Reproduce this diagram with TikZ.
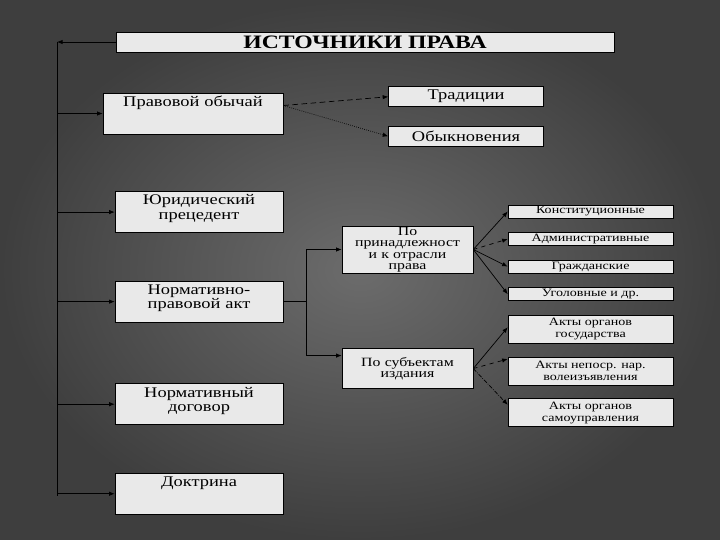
\documentclass[tikz,border=0pt]{standalone}
\usepackage{fontspec}
\setmainfont{Liberation Serif}[FakeStretch=1.25]
\usetikzlibrary{arrows.meta, positioning}
\definecolor{boxgray}{RGB}{233,233,233}
\definecolor{bgin}{RGB}{108,108,108}
\definecolor{bgout}{RGB}{62,62,62}

\begin{document}
\begin{tikzpicture}[
    node distance=0.35cm,
    titlebox/.style={rectangle, draw, fill=boxgray, minimum width=12.45cm, minimum height=0.5cm, inner sep=0pt, font=\fontsize{13.5}{14}\selectfont\bfseries},
    srcbox/.style={rectangle, draw, fill=boxgray, text width=4.0cm, inner xsep=0.1cm, inner ysep=1.5pt, minimum height=1.025cm, text height=8pt, text depth=18.1pt, align=center, font=\fontsize{10.5}{10}\selectfont},
    kindbox/.style={rectangle, draw, fill=boxgray, minimum width=3.875cm, minimum height=0.5cm, inner sep=0pt, font=\fontsize{10.5}{10}\selectfont},
    grpbox/.style={rectangle, draw, fill=boxgray, text width=3.175cm, inner xsep=0.05cm, inner ysep=0.5pt, align=center, font=\fontsize{9}{8.2}\selectfont},
    sortbox/.style={rectangle, draw, fill=boxgray, minimum width=4.125cm, minimum height=0.325cm, inner sep=0pt, align=center, font=\fontsize{8}{8.5}\selectfont},
    arrow/.style={-{Latex[length=1.4mm, width=1.1mm]}, line width=0.5pt},
]
\useasboundingbox (0,0) rectangle (18,-13.5);
\shade[inner color=bgin, outer color=bgout] (0,0) rectangle (18,-13.5);

% Title and trunk line
\node[titlebox] (title) at (9.125,-1.05) {ИСТОЧНИКИ ПРАВА};
\coordinate (trunk) at (1.425,-1.05);
\coordinate (trunkend) at (1.425,-12.4);
\draw[arrow] (title) -- (trunk);
\draw[line width=0.5pt] (trunk) -- (trunkend);

% Left column: sources
\node[srcbox, text width=4.3cm] (obychai) at (4.825,-2.8375) {Правовой обычай};
\node[srcbox, below=1.425cm of obychai, xshift=0.15cm] (precedent) {Юридический\\прецедент};
\node[srcbox, below=1.2cm of precedent] (npa) {Нормативно-\\правовой акт};
\node[srcbox, below=1.525cm of npa] (dogovor) {Нормативный\\договор};
\node[srcbox, below=1.2cm of dogovor] (doktrina) {Доктрина};

\draw[arrow] (trunk |- obychai) -- (obychai);
\draw[arrow] (trunk |- precedent) -- (precedent);
\draw[arrow] (trunk |- npa) -- (npa);
\draw[arrow] (trunk |- dogovor) -- (dogovor);
\draw[arrow] (trunk |- doktrina) -- (doktrina);

% Custom: traditions and usages
\node[kindbox, right=2.625cm of obychai.north east, yshift=-0.1cm] (tradicii) {Традиции};
\node[kindbox, below=0.475cm of tradicii] (obyknov) {Обыкновения};
\draw[arrow, dash pattern=on 4pt off 2.5pt] ([yshift=0.2cm]obychai.east) -- (tradicii.west);
\draw[arrow, densely dotted] ([yshift=0.2cm]obychai.east) -- (obyknov.west);

% Normative act: two groupings
\coordinate (split) at ([xshift=0.575cm]npa.east);
\node[grpbox, minimum height=1.175cm] (otrasl) at (10.1875,-6.2375) {По\\принадлежност\\и к отрасли\\права};
\node[grpbox, minimum height=1.0cm, below=1.875cm of otrasl] (subject) {По субъектам\\издания};
\draw[line width=0.5pt] (npa) -- (split);
\draw[arrow] (split) |- (otrasl);
\draw[arrow] (split) |- ([yshift=0.325cm]subject.west);

% By branch of law
\node[sortbox] (konst) at (14.7625,-5.2875) {Конституционные};
\node[sortbox, below=of konst] (admin) {Административные};
\node[sortbox, below=of admin] (grazhd) {Гражданские};
\node[sortbox, below=of grazhd] (ugol) {Уголовные и др.};
\draw[arrow] (otrasl.east) -- (konst.west);
\draw[arrow, dashed] (otrasl.east) -- (admin.west);
\draw[arrow] (otrasl.east) -- (grazhd.west);
\draw[arrow] (otrasl.east) -- (ugol.west);

% By issuing subject
\node[sortbox, minimum height=0.7cm, below=of ugol] (gos) {Акты органов\\государства};
\node[sortbox, minimum height=0.7cm, below=0.33cm of gos] (neposr) {Акты непоср. нар.\\волеизъявления};
\node[sortbox, minimum height=0.7cm, below=0.33cm of neposr] (samoupr) {Акты органов\\самоуправления};
\draw[arrow] (subject.east) -- ([yshift=0.05cm]gos.west);
\draw[arrow, dashed] (subject.east) -- ([yshift=0.3cm]neposr.west);
\draw[arrow, densely dashdotted] (subject.east) -- ([yshift=0.2cm]samoupr.west);
\end{tikzpicture}
\end{document}
